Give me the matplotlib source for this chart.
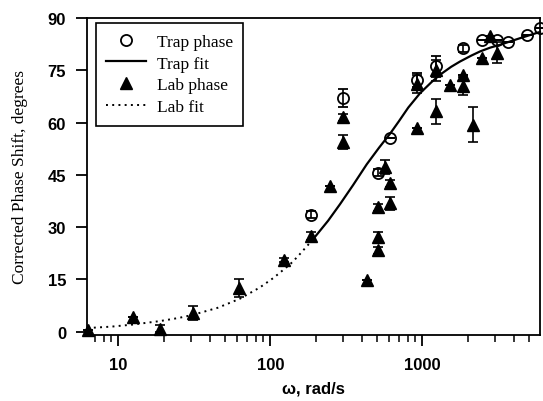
import matplotlib
matplotlib.use("Agg")
import matplotlib.pyplot as plt
from matplotlib.lines import Line2D
from matplotlib.ticker import LogLocator, NullFormatter, FixedLocator, FixedFormatter

# Lab phase (filled triangles)
lab_w = [6.28, 12.5, 18.8, 31, 62, 123, 184, 247, 302, 302, 435, 510, 510, 510,
         569, 614, 614, 918, 918, 1224, 1224, 1521, 1843, 1843, 2166, 2462, 2790, 3086]
lab_deg = [0.3, 4.2, 0.8, 5.2, 12.5, 20.5, 27.5, 41.7, 61.5, 54.5, 14.8, 35.7, 27.0, 23.3,
           47.3, 42.5, 36.8, 71.0, 58.5, 75.0, 63.2, 70.9, 73.5, 70.5, 59.4, 78.5, 84.7, 80.0]
lab_err = [0, 0, 1.0, 2.0, 2.5, 0.6, 1.2, 0, 1.0, 2.0, 0, 1.0, 1.5, 1.0,
           2.0, 1.0, 1.8, 2.5, 0, 3.0, 3.5, 0, 0, 2.5, 5.0, 0, 0, 3.0]

# Trap phase (open circles)
trap_w = [184, 302, 510, 614, 918, 1224, 1843, 2462, 3086, 3680, 4860, 5950]
trap_deg = [33.5, 67.0, 45.6, 55.5, 72.3, 76.2, 81.3, 83.8, 83.8, 83.2, 85.2, 87.0]
trap_err = [1.0, 2.5, 1.0, 0, 2.0, 3.0, 1.0, 0, 0, 0, 0, 0]

# Trap fit curve
trapfit_w = [192, 240, 288, 350, 431, 520, 614, 700, 809, 966, 1150, 1307, 1550, 1770,
             2100, 2399, 2800, 3245, 3800, 4393, 5200, 5950]
trapfit_deg = [26.6, 31.8, 36.6, 42.0, 48.0, 52.8, 56.8, 60.3, 64.3, 68.4, 71.6, 73.7, 76.0, 77.5,
               79.2, 80.4, 81.5, 82.3, 83.3, 84.2, 85.2, 86.0]

# Lab fit curve
labfit_w = [6.28, 9, 12.5, 18.8, 25, 31, 45, 63, 85, 105, 135, 152, 170, 187]
labfit_deg = [1.0, 1.4, 2.0, 3.0, 3.9, 4.8, 6.8, 9.4, 12.6, 15.4, 19.3, 21.6, 24.0, 26.0]

x_ticks = [10, 100, 1000]
x_ticklabels = ["10", "100", "1000"]
y_ticks = [0, 15, 30, 45, 60, 75, 90]
legend_labels = ["Trap phase", "Trap fit", "Lab phase", "Lab fit"]

fig = plt.figure(figsize=(5.43, 4.02), dpi=100)
ax = fig.add_axes([87/543, 66/402, 453/543, 317/402])

dotted = (0, (1, 2.2))
ax.plot(labfit_w, labfit_deg, color="black", lw=1.4, linestyle=dotted, zorder=2, clip_on=False)
ax.plot(trapfit_w, trapfit_deg, color="black", lw=1.6, zorder=2, clip_on=False)

eb_lab = ax.errorbar(lab_w, lab_deg, yerr=lab_err, fmt="^", color="black", ms=8,
                     ecolor="black", elinewidth=1.2, capsize=3.5, capthick=1.2,
                     zorder=3, clip_on=False)
eb_trap = ax.errorbar(trap_w, trap_deg, yerr=trap_err, fmt="o", mfc="none", mec="black",
                      mew=1.3, ms=8, ecolor="black", elinewidth=1.2, capsize=3.5,
                      capthick=1.2, zorder=4, clip_on=False)
for art in list(eb_lab.lines[1]) + list(eb_lab.lines[2]) + list(eb_trap.lines[1]) + list(eb_trap.lines[2]):
    art.set_clip_on(False)

ax.set_xscale("log")
ax.set_xlim(6.22, 5950)
ax.set_ylim(-1, 90)

ax.xaxis.set_major_locator(FixedLocator(x_ticks))
ax.xaxis.set_major_formatter(FixedFormatter(x_ticklabels))
ax.xaxis.set_minor_locator(LogLocator(base=10, subs=range(2, 10), numticks=20))
ax.xaxis.set_minor_formatter(NullFormatter())
ax.set_yticks(y_ticks)

ax.tick_params(axis="x", which="major", direction="out", length=8, width=1.3, pad=8,
               labelsize=12, top=False)
ax.tick_params(axis="x", which="minor", direction="out", length=5, width=1.1, top=False)
ax.tick_params(axis="y", which="major", direction="out", length=8, width=1.3, pad=7,
               labelsize=12, right=False)
for lab in ax.get_xticklabels() + ax.get_yticklabels():
    lab.set_fontweight("bold")
    lab.set_family("Liberation Sans")

for sp in ax.spines.values():
    sp.set_linewidth(1.3)
    sp.set_color("black")

ax.set_xlabel("ω, rad/s", fontsize=12, fontweight="bold", family="Liberation Sans", labelpad=6)
ax.set_ylabel("Corrected Phase Shift, degrees", fontsize=12.5, family="Liberation Serif",
              labelpad=14)

handles = [
    Line2D([], [], ls="none", marker="o", mfc="none", mec="black", mew=1.3, ms=8),
    Line2D([], [], color="black", lw=1.6),
    Line2D([], [], ls="none", marker="^", color="black", ms=8),
    Line2D([], [], color="black", lw=1.4, linestyle=dotted),
]
leg = ax.legend(handles, legend_labels, loc="upper left",
                bbox_to_anchor=(0.02, 0.984), borderaxespad=0, frameon=True,
                fancybox=False, edgecolor="black", framealpha=1,
                prop={"family": "Liberation Serif", "size": 12.5},
                handlelength=2.3, handletextpad=0.6, labelspacing=0.33,
                borderpad=0.6)
leg.get_frame().set_linewidth(1.2)

fig.savefig("out.png", dpi=100)
